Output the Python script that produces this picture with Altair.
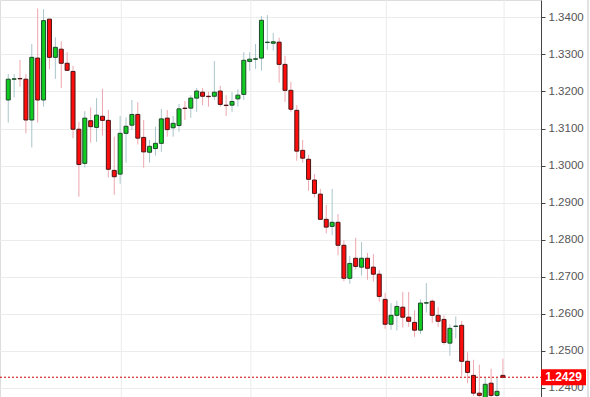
import altair as alt
import pandas as pd

opens = [1.3177, 1.3233, 1.3235, 1.3233, 1.3123, 1.3290, 1.3177, 1.3395, 1.3292, 1.3314,
         1.3276, 1.3254, 1.3098, 1.3006, 1.3121, 1.3103, 1.3133, 1.3122, 1.2987, 1.2977,
         1.3087, 1.3109, 1.3138, 1.3076, 1.3036, 1.3046, 1.3060, 1.3128, 1.3102, 1.3108,
         1.3155, 1.3155, 1.3182, 1.3198, 1.3187, 1.3187, 1.3201, 1.3163, 1.3163, 1.3180,
         1.3192, 1.3281, 1.3287, 1.3290, 1.3332, 1.3330, 1.3333, 1.3273, 1.3203, 1.3149,
         1.3041, 1.3017, 1.2961, 1.2923, 1.2855, 1.2836, 1.2847, 1.2785, 1.2696, 1.2750,
         1.2726, 1.2750, 1.2726, 1.2707, 1.2639, 1.2572, 1.2596, 1.2618, 1.2591, 1.2577,
         1.2556, 1.2629, 1.2634, 1.2596, 1.2585, 1.2521, 1.2566, 1.2569, 1.2472, 1.2434,
         1.2386, 1.2372, 1.2413, 1.2380, 1.2434]
highs = [1.3247, 1.3247, 1.3285, 1.3247, 1.3328, 1.3424, 1.3422, 1.3395, 1.3346, 1.3335,
         1.3306, 1.3269, 1.3118, 1.3147, 1.3157, 1.3182, 1.3207, 1.3150, 1.3078, 1.3134,
         1.3130, 1.3177, 1.3171, 1.3123, 1.3069, 1.3105, 1.3153, 1.3150, 1.3134, 1.3166,
         1.3174, 1.3190, 1.3209, 1.3209, 1.3199, 1.3282, 1.3215, 1.3190, 1.3198, 1.3206,
         1.3306, 1.3306, 1.3328, 1.3404, 1.3406, 1.3358, 1.3345, 1.3296, 1.3226, 1.3163,
         1.3069, 1.3029, 1.2977, 1.2937, 1.2894, 1.2937, 1.2869, 1.2798, 1.2756, 1.2805,
         1.2794, 1.2764, 1.2761, 1.2718, 1.2656, 1.2629, 1.2635, 1.2659, 1.2659, 1.2610,
         1.2639, 1.2683, 1.2639, 1.2618, 1.2596, 1.2572, 1.2593, 1.2581, 1.2496, 1.2476,
         1.2463, 1.2429, 1.2452, 1.2429, 1.2479]
lows = [1.3116, 1.3184, 1.3213, 1.3087, 1.3049, 1.3116, 1.3159, 1.3260, 1.3234, 1.3209,
        1.3255, 1.3074, 1.2916, 1.2995, 1.3062, 1.3064, 1.3081, 1.2968, 1.2921, 1.2951,
        1.3008, 1.3096, 1.3057, 1.2994, 1.3008, 1.3027, 1.3037, 1.3078, 1.3078, 1.3091,
        1.3123, 1.3129, 1.3145, 1.3163, 1.3159, 1.3177, 1.3159, 1.3134, 1.3145, 1.3159,
        1.3177, 1.3256, 1.3261, 1.3256, 1.3312, 1.3310, 1.3224, 1.3172, 1.3145, 1.3013,
        1.3008, 1.2932, 1.2914, 1.2853, 1.2817, 1.2812, 1.2758, 1.2688, 1.2681, 1.2720,
        1.2703, 1.2692, 1.2687, 1.2633, 1.2560, 1.2557, 1.2555, 1.2563, 1.2565, 1.2538,
        1.2546, 1.2604, 1.2575, 1.2565, 1.2517, 1.2487, 1.2534, 1.2433, 1.2413, 1.2378,
        1.2370, 1.2366, 1.2372, 1.2372, 1.2426]
closes = [1.3233, 1.3234, 1.3234, 1.3123, 1.3292, 1.3177, 1.3391, 1.3292, 1.3319, 1.3276,
          1.3257, 1.3098, 1.3003, 1.3128, 1.3105, 1.3136, 1.3122, 1.2990, 1.2970, 1.3087,
          1.3106, 1.3138, 1.3074, 1.3037, 1.3052, 1.3060, 1.3126, 1.3097, 1.3114, 1.3153,
          1.3154, 1.3182, 1.3201, 1.3187, 1.3186, 1.3198, 1.3165, 1.3162, 1.3173, 1.3190,
          1.3284, 1.3287, 1.3288, 1.3392, 1.3333, 1.3334, 1.3273, 1.3203, 1.3152, 1.3039,
          1.3020, 1.2963, 1.2925, 1.2855, 1.2834, 1.2847, 1.2785, 1.2696, 1.2736, 1.2728,
          1.2750, 1.2723, 1.2707, 1.2647, 1.2572, 1.2596, 1.2620, 1.2591, 1.2580, 1.2556,
          1.2629, 1.2630, 1.2596, 1.2580, 1.2523, 1.2561, 1.2567, 1.2472, 1.2442, 1.2386,
          1.2380, 1.2410, 1.2380, 1.2391, 1.2429]

y_ticks = [1.24, 1.25, 1.26, 1.27, 1.28, 1.29, 1.30, 1.31, 1.32, 1.33, 1.34]
vgrid_positions = [19.2, 41.2, 64.2, 84.2]
last_price = closes[-1]
last_label = "1.2429"

df = pd.DataFrame({
    "i": list(range(len(opens))),
    "open": opens, "high": highs, "low": lows, "close": closes,
})
df["dir"] = ["up" if c >= o else "down" for o, c in zip(opens, closes)]

W, H = 541, 397
xscale = alt.Scale(domain=[-0.55, 89.62], nice=False, zero=False)
yscale = alt.Scale(domain=[1.23757, 1.34467], nice=False, zero=False)

yaxis = alt.Axis(orient="right", values=y_ticks, format=".4f", title=None,
                 labelFontSize=11.5, labelColor="#555555", labelFont="Liberation Sans",
                 labelOverlap=False, labelBound=False, labelFlush=False,
                 tickSize=4, tickColor="#444444", domainColor="#444444",
                 gridColor="#ececec", grid=True, labelPadding=3)

wick_color = alt.Color("dir:N", scale=alt.Scale(domain=["up", "down"], range=["#a9c6ca", "#eda6ae"]), legend=None)
fill_color = alt.Color("dir:N", scale=alt.Scale(domain=["up", "down"], range=["#0fcc1f", "#ff0d0d"]), legend=None)
stroke_color = alt.Stroke("dir:N", scale=alt.Scale(domain=["up", "down"], range=["#1e4a2c", "#4a1414"]), legend=None)

base = alt.Chart(df)

vgrid = alt.Chart(pd.DataFrame({"x": vgrid_positions})).mark_rule(
    color="#ececec", strokeWidth=1
).encode(x=alt.X("x:Q", scale=xscale, axis=None))

wicks = base.mark_rule(strokeWidth=1, clip=True).encode(
    x=alt.X("i:Q", scale=xscale, axis=None),
    y=alt.Y("high:Q", scale=yscale, axis=yaxis),
    y2="low:Q",
    color=wick_color,
)

bodies = base.mark_bar(size=4, strokeWidth=1, clip=True).encode(
    x=alt.X("i:Q", scale=xscale, axis=None),
    y=alt.Y("open:Q", scale=yscale, axis=yaxis),
    y2="close:Q",
    color=fill_color,
    stroke=stroke_color,
)

last_df = pd.DataFrame({"p": [last_price], "label": [last_label]})
lastline = alt.Chart(last_df).mark_rule(color="#d00000", strokeWidth=1, strokeDash=[2, 2]).encode(
    y=alt.Y("p:Q", scale=yscale, axis=yaxis), x=alt.value(0), x2=alt.value(W)
)
label_box = alt.Chart(last_df).transform_calculate(
    lo="datum.p - 0.00215", hi="datum.p + 0.00215"
).mark_rect(color="#ff0000").encode(
    y=alt.Y("lo:Q", scale=yscale, axis=yaxis), y2="hi:Q", x=alt.value(541), x2=alt.value(586)
)
label_text = alt.Chart(last_df).mark_text(
    color="white", fontWeight="bold", fontSize=12, font="Liberation Sans", align="center", baseline="middle"
).encode(y=alt.Y("p:Q", scale=yscale, axis=yaxis), x=alt.value(563.5), text="label:N")

border = alt.Chart(last_df).mark_rule(color="#e2e2e2", strokeWidth=2).encode(
    x=alt.value(588), y=alt.value(0), y2=alt.value(H)
)

chart = alt.layer(vgrid, wicks, bodies, lastline, label_box, label_text, border).resolve_scale(
    color="independent"
).properties(
    width=W, height=H,
    padding={"left": 0, "top": 0, "right": 49, "bottom": 0},
    autosize=alt.AutoSizeParams(type="none"),
).configure_view(stroke=None).configure(background="white")

chart.save("out.html", embed_options={"renderer": "svg", "actions": False})
